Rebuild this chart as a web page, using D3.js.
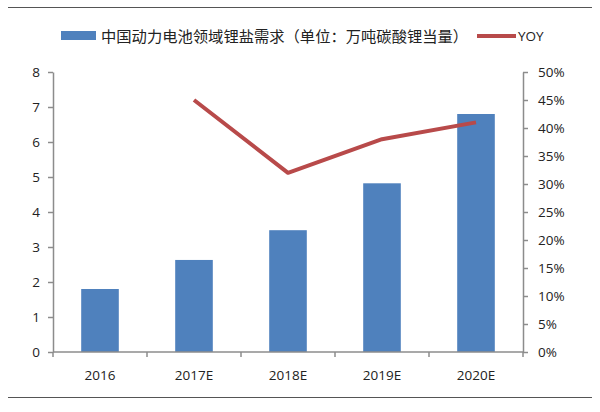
<!DOCTYPE html>
<html><head><meta charset="utf-8">
<script src="https://cdn.jsdelivr.net/npm/d3@7"></script>
<style>body{margin:0;background:#fff}svg{display:block}</style>
</head><body>
<svg id="c" width="600" height="412"></svg>
<script>
const categories = ["2016","2017E","2018E","2019E","2020E"];
const demand = [1.8, 2.63, 3.48, 4.82, 6.8];
const yoyCats = ["2017E","2018E","2019E","2020E"];
const yoy = [0.45, 0.32, 0.38, 0.41];
const leftTicks = [0,1,2,3,4,5,6,7,8];
const rightTicks = [0,0.05,0.1,0.15,0.2,0.25,0.3,0.35,0.4,0.45,0.5];
const legendBar = "中国动力电池领域锂盐需求（单位：万吨碳酸锂当量）";
const legendLine = "YOY";

const svg = d3.select("#c");
const L = 53, R = 523, T = 72, B = 352;
const axisColor = "#8c8c8c";
const font = "'Open Sans', 'Noto Sans', sans-serif";

svg.append("line").attr("x1",8).attr("x2",592).attr("y1",7.5).attr("y2",7.5).attr("stroke","#555").attr("stroke-width",1);
svg.append("line").attr("x1",8).attr("x2",592).attr("y1",397.5).attr("y2",397.5).attr("stroke","#555").attr("stroke-width",1);

const x = d3.scaleBand().domain(categories).range([L,R]).paddingInner(0.6).paddingOuter(0.3);
const y = d3.scaleLinear().domain([0,8]).range([B,T]);
const y2 = d3.scaleLinear().domain([0,0.5]).range([B,T]);

svg.append("g").selectAll("rect").data(categories).join("rect")
  .attr("x", d=>x(d)).attr("width", x.bandwidth())
  .attr("y", (d,i)=>y(demand[i])).attr("height",(d,i)=>B-y(demand[i]))
  .attr("fill","#4f81bd");

function styleAxis(g){
  g.selectAll("path,line").attr("stroke",axisColor).attr("stroke-width",1.5);
  g.selectAll("text").attr("fill","#222").style("font-family",font).style("font-size","13.5px");
}

const gl = svg.append("g").attr("transform",`translate(${L},0)`)
  .call(d3.axisLeft(y).tickValues(leftTicks).tickFormat(d3.format("d")).tickSizeInner(5).tickSizeOuter(0).tickPadding(8));
styleAxis(gl);

const gr = svg.append("g").attr("transform",`translate(${R},0)`)
  .call(d3.axisRight(y2).tickValues(rightTicks).tickFormat(d3.format(".0%")).tickSizeInner(5).tickSizeOuter(0).tickPadding(10));
styleAxis(gr);

const xb = d3.scaleLinear().domain([0,categories.length]).range([L,R]);
const gx = svg.append("g").attr("transform",`translate(0,${B})`);
gx.append("line").attr("x1",L).attr("x2",R).attr("stroke",axisColor).attr("stroke-width",1.5);
gx.selectAll("line.t").data(d3.range(categories.length+1)).join("line").attr("class","t")
  .attr("x1",d=>xb(d)).attr("x2",d=>xb(d)).attr("y1",0).attr("y2",5).attr("stroke",axisColor).attr("stroke-width",1.5);
gx.selectAll("text").data(categories).join("text")
  .attr("x",d=>x(d)+x.bandwidth()/2).attr("y",28).attr("text-anchor","middle")
  .attr("fill","#222").style("font-family",font).style("font-size","13.5px").text(d=>d);

const line = d3.line().x(d=>x(d[0])+x.bandwidth()/2).y(d=>y2(d[1]));
svg.append("path").datum(yoyCats.map((c,i)=>[c,yoy[i]]))
  .attr("d",line).attr("fill","none").attr("stroke","#b84a4a").attr("stroke-width",4).attr("stroke-linejoin","round");

const lg = svg.append("g");
lg.append("rect").attr("x",61).attr("y",31).attr("width",35).attr("height",9).attr("fill","#4f81bd");
lg.append("text").attr("x",101).attr("y",41.5).attr("fill","#222")
  .style("font-family","'Noto Sans CJK SC', sans-serif").style("font-size","15.3px").text(legendBar);
lg.append("line").attr("x1",477).attr("x2",516).attr("y1",36).attr("y2",36).attr("stroke","#b84a4a").attr("stroke-width",4);
lg.append("text").attr("x",518).attr("y",41).attr("fill","#222")
  .style("font-family",font).style("font-size","13.5px").text(legendLine);
</script>
</body></html>
